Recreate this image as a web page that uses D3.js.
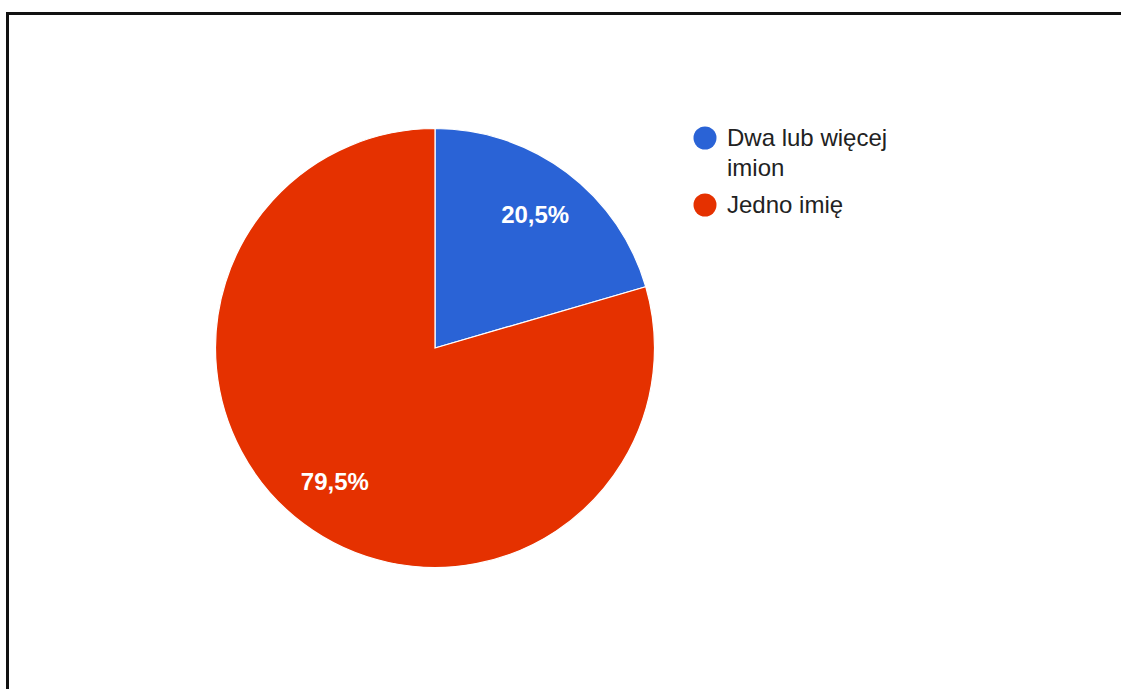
<!DOCTYPE html>
<html>
<head>
<meta charset="utf-8">
<script src="https://cdn.jsdelivr.net/npm/d3@7"></script>
<style>
  html, body { margin: 0; padding: 0; background: #fff; }
  svg { display: block; }
</style>
</head>
<body>
<div id="chart"></div>
<script>
// Chart data
const categories = ['Dwa lub więcej imion', 'Jedno imię'];
const values = [20.5, 79.5];
const colors = ['#2a63d6', '#e53100'];
const legendLines = [['Dwa lub więcej', 'imion'], ['Jedno imię']];

const width = 1121, height = 689;
const cx = 435, cy = 348, radius = 219.5;

const svg = d3.select('#chart')
  .append('svg')
  .attr('width', width)
  .attr('height', height);

// Frame (top and left edges of the screenshot border)
svg.append('path')
  .attr('d', `M7.5,${height} L7.5,13.5 L${width},13.5`)
  .attr('fill', 'none')
  .attr('stroke', '#111')
  .attr('stroke-width', 3);

const pie = d3.pie().sort(null).value(d => d);
const arc = d3.arc().innerRadius(0).outerRadius(radius);
const labelArc = d3.arc().innerRadius(radius * 0.76).outerRadius(radius * 0.76);

const g = svg.append('g').attr('transform', `translate(${cx},${cy})`);
const arcs = pie(values);

g.selectAll('path.slice')
  .data(arcs)
  .enter().append('path')
  .attr('class', 'slice')
  .attr('d', arc)
  .attr('fill', (d, i) => colors[i])
  .attr('stroke', '#fff')
  .attr('stroke-width', 1.2);

const fmt = v => v.toFixed(1).replace('.', ',') + '%';

g.selectAll('text.pct')
  .data(arcs)
  .enter().append('text')
  .attr('class', 'pct')
  .attr('transform', d => `translate(${labelArc.centroid(d)})`)
  .attr('text-anchor', 'middle')
  .attr('dy', '0.36em')
  .style('font-family', 'Arial, "Liberation Sans", sans-serif')
  .style('font-size', '24px')
  .style('font-weight', 'bold')
  .style('fill', '#fff')
  .text(d => fmt(d.data));

// Legend
const legendX = 705, legendY = [138, 205];
const legend = svg.append('g');
categories.forEach((c, i) => {
  legend.append('circle')
    .attr('cx', legendX)
    .attr('cy', legendY[i])
    .attr('r', 11.5)
    .attr('fill', colors[i]);
  const t = legend.append('text')
    .attr('x', legendX + 22)
    .attr('y', legendY[i] + 8)
    .style('font-family', 'Arial, "Liberation Sans", sans-serif')
    .style('font-size', '24px')
    .style('fill', '#222');
  legendLines[i].forEach((line, j) => {
    t.append('tspan')
      .attr('x', legendX + 22)
      .attr('dy', j === 0 ? 0 : 30)
      .text(line);
  });
});
</script>
</body>
</html>
